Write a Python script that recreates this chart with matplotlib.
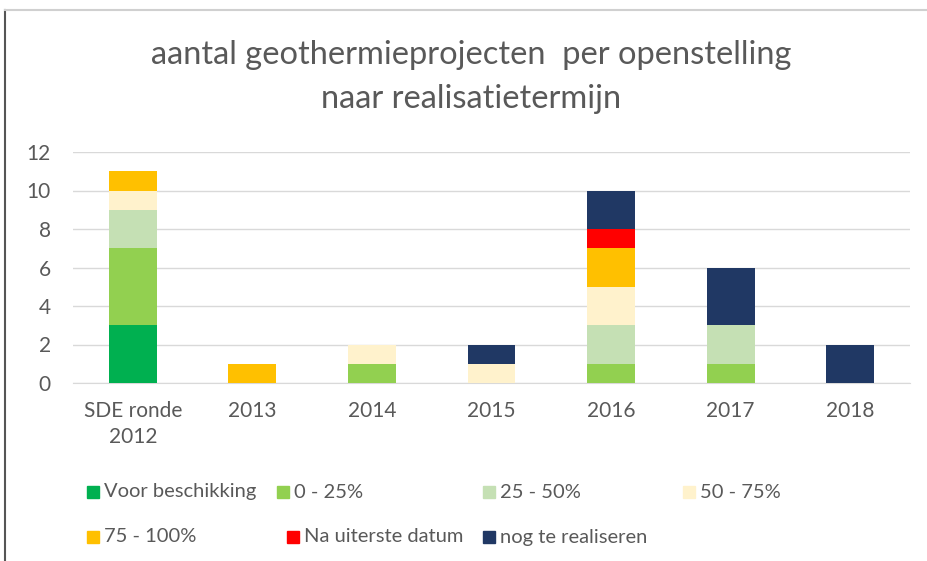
import numpy as np
import matplotlib
matplotlib.use("Agg")
import matplotlib.pyplot as plt
from matplotlib.patches import Rectangle
from matplotlib.lines import Line2D

# Data
categories = ["SDE ronde\n2012", "2013", "2014", "2015", "2016", "2017", "2018"]
series_names = ["Voor beschikking", "0 - 25%", "25 - 50%", "50 - 75%",
                "75 - 100%", "Na uiterste datum", "nog te realiseren"]
voor_beschikking = [3, 0, 0, 0, 0, 0, 0]
p0_25 = [4, 0, 1, 0, 1, 1, 0]
p25_50 = [2, 0, 0, 0, 2, 2, 0]
p50_75 = [1, 0, 1, 1, 2, 0, 0]
p75_100 = [1, 1, 0, 0, 2, 0, 0]
na_uiterste = [0, 0, 0, 0, 1, 0, 0]
nog_te_realiseren = [0, 0, 0, 1, 2, 3, 2]
series = [voor_beschikking, p0_25, p25_50, p50_75, p75_100, na_uiterste, nog_te_realiseren]
colors = ["#00B050", "#92D050", "#C5E0B4", "#FFF2CC", "#FFC000", "#FF0000", "#203864"]

plt.rcParams["font.family"] = ["Lato", "DejaVu Sans"]
text_col = "#595959"
W, H = 927, 561

fig = plt.figure(figsize=(9.27, 5.61), dpi=100)
ax = fig.add_axes([73 / W, 1 - 383 / H, 837 / W, 231 / H])

x = np.arange(len(categories))
bottom = np.zeros(len(categories))
for vals, name, c in zip(series, series_names, colors):
    ax.bar(x, vals, 0.4, bottom=bottom, color=c, label=name, zorder=3)
    bottom += np.array(vals)

ax.set_xlim(-0.5, len(categories) - 0.5)
ax.set_ylim(0, 12)
ax.set_yticks(range(0, 13, 2))
ax.set_xticks(x)
ax.set_xticklabels(categories, color=text_col, fontsize=15, linespacing=1.35)
ax.tick_params(axis="y", colors=text_col, labelsize=15, length=0, pad=16)
ax.tick_params(axis="x", length=0, pad=13)
ax.grid(axis="y", color="#D9D9D9", linewidth=1, zorder=0)
for s in ["top", "right", "left"]:
    ax.spines[s].set_visible(False)
ax.spines["bottom"].set_color("#D9D9D9")

fig.text(471 / W, 1 - 55 / H, "aantal geothermieprojecten  per openstelling",
         ha="center", va="center", fontsize=23.5, color=text_col)
fig.text(471 / W, 1 - 99 / H, "naar realisatietermijn",
         ha="center", va="center", fontsize=23.5, color=text_col)

# Legend laid out like Excel, row-wise
leg_x = [87, 277, 483, 683, 87, 287, 483]
row_y = [492, 537]
for i, (name, c) in enumerate(zip(series_names, colors)):
    px = leg_x[i]
    py = row_y[i // 4]
    fig.patches.append(Rectangle((px / W, 1 - (py + 6) / H), 12 / W, 12 / H,
                                 transform=fig.transFigure, color=c, figure=fig))
    fig.text((px + 17) / W, 1 - py / H, name, ha="left", va="center",
             fontsize=14.5, color=text_col)

# Frame lines
fig.add_artist(Line2D([5 / W, 5 / W], [0, 1 - 10 / H], transform=fig.transFigure,
                      color="#555555", linewidth=1.5))
fig.add_artist(Line2D([5 / W, 1], [1 - 10 / H, 1 - 10 / H], transform=fig.transFigure,
                      color="#D0D0D0", linewidth=1.5))

fig.savefig("out.png", dpi=100)
